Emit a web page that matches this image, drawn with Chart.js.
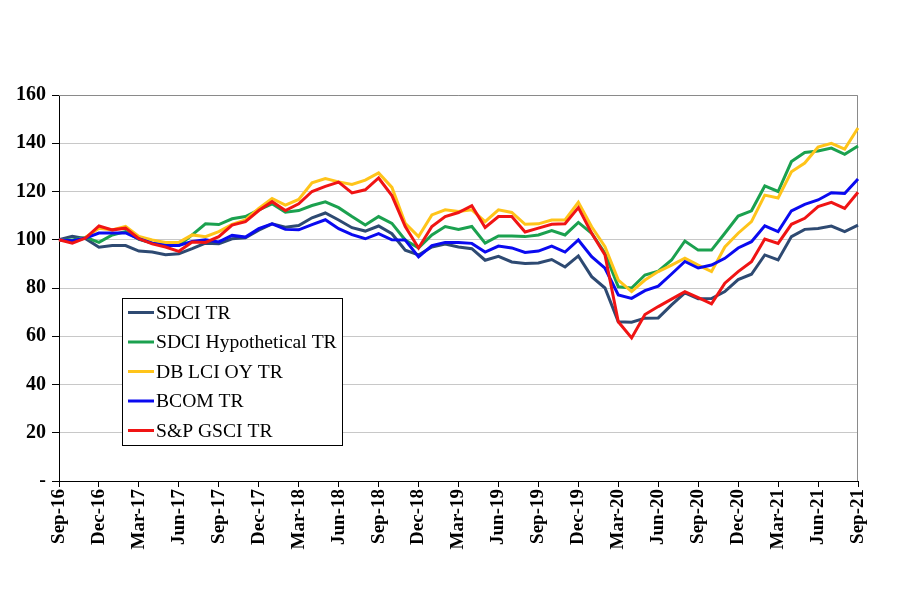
<!DOCTYPE html>
<html>
<head>
<meta charset="utf-8">
<script src="https://cdn.jsdelivr.net/npm/chart.js@4/dist/chart.umd.min.js"></script>
<style>
  body { margin: 0; background: #fff; }
  #wrap { width: 900px; height: 611px; }
</style>
</head>
<body>
<div id="wrap"><canvas id="idxChart"></canvas></div>
<script>
const months = ['Sep-16','Oct-16','Nov-16','Dec-16','Jan-17','Feb-17','Mar-17','Apr-17','May-17','Jun-17','Jul-17','Aug-17',
  'Sep-17','Oct-17','Nov-17','Dec-17','Jan-18','Feb-18','Mar-18','Apr-18','May-18','Jun-18','Jul-18','Aug-18',
  'Sep-18','Oct-18','Nov-18','Dec-18','Jan-19','Feb-19','Mar-19','Apr-19','May-19','Jun-19','Jul-19','Aug-19',
  'Sep-19','Oct-19','Nov-19','Dec-19','Jan-20','Feb-20','Mar-20','Apr-20','May-20','Jun-20','Jul-20','Aug-20',
  'Sep-20','Oct-20','Nov-20','Dec-20','Jan-21','Feb-21','Mar-21','Apr-21','May-21','Jun-21','Jul-21','Aug-21','Sep-21'];

const sdci = [100,101.4,100.4,96.9,97.6,97.6,95.3,94.9,93.8,94.2,96.3,98.6,
  98.3,100.4,100.8,104,106.6,105.2,105.9,109.1,111.1,108.2,105,103.6,
  105.7,102.5,95.7,93.7,97,98.2,97,96.3,91.5,93.1,90.8,90.2,
  90.4,91.8,88.7,93.3,84.7,80,66,65.8,67.5,67.6,73,78,
  75.5,75.6,78.5,83.5,85.7,93.7,91.6,101.3,104.3,104.7,105.7,103.4,106.1];
const sdciHypo = [100,99.9,101,98.9,102,103.4,100.2,98.6,97.6,97.6,102,106.6,
  106.3,108.7,109.6,112.4,114.9,111.4,112.1,114.2,115.7,113.3,109.6,106.1,
  109.6,106.8,99.9,96.6,102,105.5,104.3,105.5,98.6,101.6,101.6,101.3,
  102,103.8,102,107.2,102.7,94.4,80.5,80,85.4,87,91.6,99.5,
  95.7,95.7,102.7,109.8,112,122.3,120,132.4,136.2,136.8,138,135.4,138.9];
const dbLci = [100,99.3,101,104.8,104.1,105.5,101.4,99.9,98.9,98.9,102,101.3,
  103.4,106.4,108.2,113,117.1,114.4,116.7,123.6,125.4,124,122.9,124.7,
  127.7,121.7,106.8,101.3,110.3,112.4,111.7,112.4,107.5,112.4,111.3,106.4,
  106.6,108.2,108.2,115.5,105.4,97.1,83.3,78.5,83.3,86.8,89.5,92.4,
  89.5,86.8,97,102.7,107.5,118.5,117.3,128.2,131.8,138.4,140,137.6,146.3];
const bcom = [100,99.6,100.7,102.8,102.8,102.8,100.4,98.6,97.6,97.6,99.3,100,
  99.1,101.8,101.1,104.6,106.6,104.3,104.1,106.3,108.3,104.6,102.1,100.4,
  102.5,100,99.9,92.9,97.6,98.9,98.9,98.5,94.9,97.4,96.6,94.7,
  95.3,97.4,94.9,99.9,93,88.2,77.1,75.7,78.9,80.8,85.8,91,
  88.3,89.5,92.3,96.6,99.2,105.8,103.4,112,114.7,116.5,119.5,119.2,125.2];
const gsci = [100,98.6,100.7,105.7,104.1,104.8,100.4,98.3,97,95.2,99.1,98.9,
  101.3,106.1,107.5,112.1,115.8,112.1,114.9,120,122.1,123.9,119.4,120.7,
  125.6,118.3,105.5,96.6,105.5,109.6,111.3,114.1,105.1,109.6,109.6,103.2,
  104.8,106.4,106.6,113.3,102.7,93.7,66,59.3,69,72.3,75.4,78.5,
  76,73.4,82,86.8,90.9,100.3,98.5,106.4,108.9,113.7,115.5,113,119.7];

const seriesNames = ['SDCI TR', 'SDCI Hypothetical TR', 'DB LCI OY TR', 'BCOM TR', 'S&P GSCI TR'];
const seriesColors = ['#2E4A72', '#1BA14F', '#FFC41A', '#0A0AF0', '#F01414'];
const seriesValues = [sdci, sdciHypo, dbLci, bcom, gsci];

const serif = '"Liberation Serif", "Times New Roman", serif';

// gray frame on top/right of plot area
const plotFrame = {
  id: 'plotFrame',
  beforeDatasetsDraw(chart) {
    const {ctx, chartArea: {left, top, right, bottom}} = chart;
    ctx.save();
    ctx.strokeStyle = '#8a8a8a';
    ctx.lineWidth = 1;
    ctx.beginPath();
    ctx.moveTo(left, top + 0.5);
    ctx.lineTo(right - 0.5, top + 0.5);
    ctx.lineTo(right - 0.5, bottom);
    ctx.stroke();
    ctx.restore();
  }
};

// boxed legend sitting inside the plot
const boxLegend = {
  id: 'boxLegend',
  afterDatasetsDraw(chart) {
    const ctx = chart.ctx;
    const x0 = 122, y0 = 298, w = 220, h = 147;
    ctx.save();
    ctx.fillStyle = '#fff';
    ctx.fillRect(x0, y0, w, h);
    ctx.strokeStyle = '#000';
    ctx.lineWidth = 1;
    ctx.strokeRect(x0 + 0.5, y0 + 0.5, w, h);
    ctx.font = '19.6px ' + serif;
    ctx.textBaseline = 'middle';
    ctx.textAlign = 'left';
    chart.data.datasets.forEach((ds, i) => {
      const y = y0 + 14.5 + i * 29.5;
      ctx.strokeStyle = ds.borderColor;
      ctx.lineWidth = 3;
      ctx.beginPath();
      ctx.moveTo(x0 + 6, y);
      ctx.lineTo(x0 + 32, y);
      ctx.stroke();
      ctx.fillStyle = '#000';
      ctx.fillText(ds.label, x0 + 34, y + 1);
    });
    ctx.restore();
  }
};

const datasets = seriesNames.map((name, i) => ({
  label: name,
  data: seriesValues[i],
  borderColor: seriesColors[i],
  backgroundColor: seriesColors[i],
  borderWidth: 3,
  pointRadius: 0,
  tension: 0,
  order: 5 - i
}));

new Chart(document.getElementById('idxChart'), {
  type: 'line',
  data: { labels: months, datasets: datasets },
  options: {
    responsive: true,
    maintainAspectRatio: false,
    animation: false,
    layout: { padding: { top: 95, right: 42, bottom: 20, left: 0 } },
    plugins: { legend: { display: false }, tooltip: { enabled: false } },
    scales: {
      x: {
        afterFit(scale) { scale.height = 110; },
        grid: { drawOnChartArea: false, drawTicks: true, tickLength: 6, color: '#000', tickColor: '#000' },
        border: { color: '#000', width: 1 },
        ticks: {
          autoSkip: false,
          maxRotation: 90,
          minRotation: 90,
          padding: 2,
          color: '#000',
          font: { family: serif, size: 19, weight: 'bold' },
          callback(v, i) { return i % 3 === 0 ? months[i] : null; }
        }
      },
      y: {
        min: 0,
        max: 160,
        afterFit(scale) { scale.width = 59; },
        grid: { color: '#c8c8c8', tickColor: '#000', tickLength: 7 },
        border: { color: '#000', width: 1 },
        ticks: {
          stepSize: 20,
          padding: 6,
          color: '#000',
          font: { family: serif, size: 20, weight: 'bold' },
          callback(v) { return v === 0 ? '-' : v; }
        }
      }
    }
  },
  plugins: [plotFrame, boxLegend]
});
</script>
</body>
</html>
